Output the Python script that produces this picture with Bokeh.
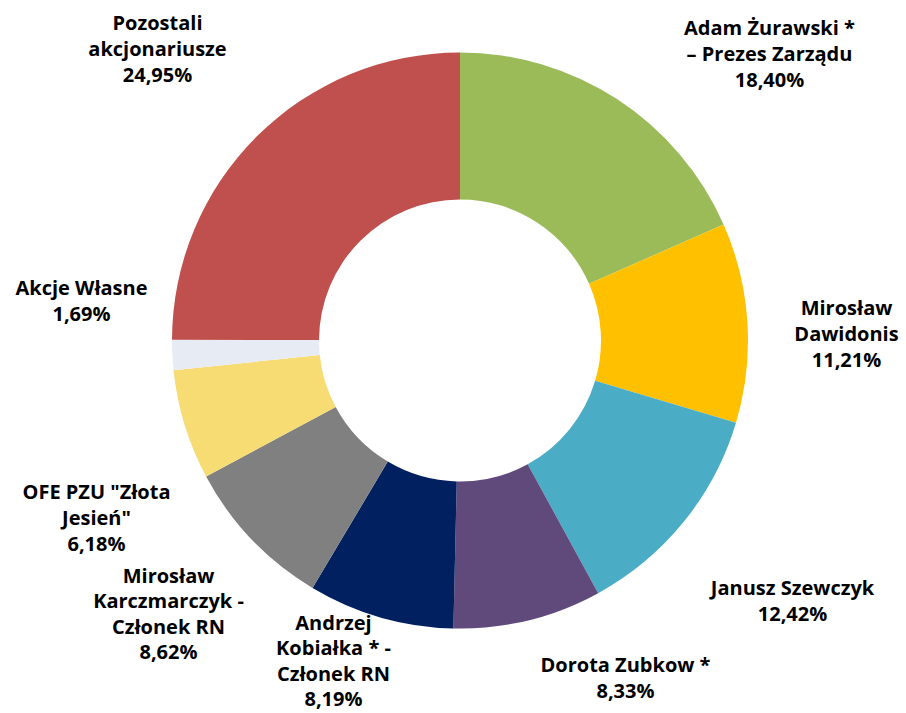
import numpy as np
from bokeh.plotting import figure
from bokeh.models import Range1d, ColumnDataSource
from bokeh.core.properties import value
from bokeh.embed import file_html
from bokeh.resources import INLINE

# ---- data ----
names = [
    "Adam Żurawski *\n– Prezes Zarządu",
    "Mirosław\nDawidonis",
    "Janusz Szewczyk",
    "Dorota Zubkow *",
    "Andrzej\nKobiałka * -\nCzłonek RN",
    "Mirosław\nKarczmarczyk -\nCzłonek RN",
    "OFE PZU \"Złota\nJesień\"",
    "Akcje Własne",
    "Pozostali\nakcjonariusze",
]
shares = [18.40, 11.21, 12.42, 8.33, 8.19, 8.62, 6.18, 1.69, 24.95]
colors = ["#9BBB59", "#FFC000", "#4BACC6", "#604A7B", "#002060",
          "#808080", "#F7DC74", "#E7ECF4", "#C0504D"]

# ---- layout (screen-pixel based) ----
W, H = 900, 712
cx, cy = 459.5, 713 - 340
r_out, r_in = 288, 141
label_x = [769, 846, 792, 625, 333, 168, 96, 81, 157]
label_y_screen = [53, 333, 600, 677, 660, 613, 517, 300, 48]

vals = np.array(shares)
frac = vals / vals.sum()
cum = np.concatenate([[0], np.cumsum(frac)])
start = np.pi / 2 - 2 * np.pi * cum[1:]
end = np.pi / 2 - 2 * np.pi * cum[:-1]

src = ColumnDataSource(dict(start=start, end=end, color=colors))

p = figure(width=W, height=H, output_backend="svg", toolbar_location=None,
           x_range=Range1d(0, W), y_range=Range1d(713 - H, 713),
           min_border=0)
p.axis.visible = False
p.grid.visible = False
p.outline_line_color = None
p.background_fill_color = "white"

p.annular_wedge(x=cx, y=cy, inner_radius=r_in, outer_radius=r_out,
                start_angle="start", end_angle="end", direction="anticlock",
                fill_color="color", line_color=None, source=src)

labels = [n + "\n" + f"{v:.2f}".replace(".", ",") + "%" for n, v in zip(names, shares)]
lsrc = ColumnDataSource(dict(x=label_x, y=[713 - y for y in label_y_screen], text=labels))
p.text(x="x", y="y", text="text", source=lsrc, text_align="center",
       text_baseline="middle", text_font=value("Open Sans"), text_font_style="bold",
       text_font_size="20px", text_line_height=0.95, text_color="#000000")

open("out.html", "w").write(file_html(p, INLINE))
